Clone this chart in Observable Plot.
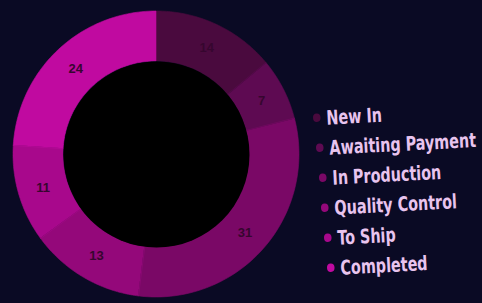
<!DOCTYPE html>
<html><head><meta charset="utf-8">
<script src="https://cdn.jsdelivr.net/npm/d3@7"></script>
<script src="https://cdn.jsdelivr.net/npm/@observablehq/plot@0.6"></script>
<style>
html,body{margin:0;padding:0;background:#0a0a24;}
#wrap{position:relative;width:482px;height:303px;overflow:hidden;background:#0a0a24;}
#chart{position:absolute;left:0;top:0;}
#legend{position:absolute;left:0;top:0;font-family:"DejaVu Sans Condensed","Liberation Sans",sans-serif;font-weight:bold;font-size:19px;color:#e8c4ee;}
.item{position:absolute;display:flex;align-items:center;white-space:nowrap;transform:rotate(-3deg) scale(0.84,1.05);transform-origin:left center;line-height:22px;}
.dot{width:9px;height:8px;border-radius:50%;margin-right:7px;flex:none;}
</style></head>
<body><div id="wrap"><div id="chart"></div><div id="legend"></div></div>
<script>
const categories = ["New In","Awaiting Payment","In Production","Quality Control","To Ship","Completed"];
const values = [14, 7, 31, 13, 11, 24];
const colors = ["#4a0a3e","#5e0a52","#7a0866","#94087a","#a8088c","#c00aa0"];

const W = 482, H = 303, CX = 156, CY = 154, R = 143, RIN = 93;
const inner = RIN / R;
const mid = (1 + inner) / 2;

const rows = categories.map((c, i) => ({cat: c, value: values[i]}));
const arcs = d3.pie().sort(null).value(d => d.value).startAngle(0.0)(rows);

const pts = [];
const labels = [];
for (const a of arcs) {
  const n = 60;
  for (let k = 0; k <= n; k++) {
    const t = a.startAngle + (a.endAngle - a.startAngle) * k / n;
    pts.push({cat: a.data.cat, xo: Math.sin(t), yo: Math.cos(t), xi: inner * Math.sin(t), yi: inner * Math.cos(t)});
  }
  const m = (a.startAngle + a.endAngle) / 2;
  labels.push({x: mid * Math.sin(m), y: mid * Math.cos(m), text: String(a.data.value)});
}

const chart = Plot.plot({
  width: W, height: H,
  margin: 0,
  style: {background: "transparent"},
  x: {domain: [-CX / R, (W - CX) / R], axis: null},
  y: {domain: [-(H - CY) / R, CY / R], axis: null},
  color: {domain: categories, range: colors},
  marks: [
    Plot.area(pts, {x1: "xi", y1: "yi", x2: "xo", y2: "yo", z: "cat", fill: "cat", stroke: "cat", strokeWidth: 0.6}),
    Plot.dot([{x: 0, y: 0}], {x: "x", y: "y", r: RIN, fill: "#000000", stroke: "none"}),
    Plot.text(labels, {x: "x", y: "y", text: "text", fill: "#36062f", fontSize: 13, fontWeight: "bold", fontFamily: "Liberation Sans, sans-serif"})
  ]
});
document.getElementById("chart").appendChild(chart);

const legend = document.getElementById("legend");
categories.forEach((c, i) => {
  const it = document.createElement("div");
  it.className = "item";
  it.style.left = (313 + i * 2.8) + "px";
  it.style.top = (107 + i * 30) + "px";
  const d = document.createElement("span");
  d.className = "dot";
  d.style.background = colors[i];
  const s = document.createElement("span");
  s.textContent = c;
  it.appendChild(d); it.appendChild(s);
  legend.appendChild(it);
});
</script>
</body></html>
